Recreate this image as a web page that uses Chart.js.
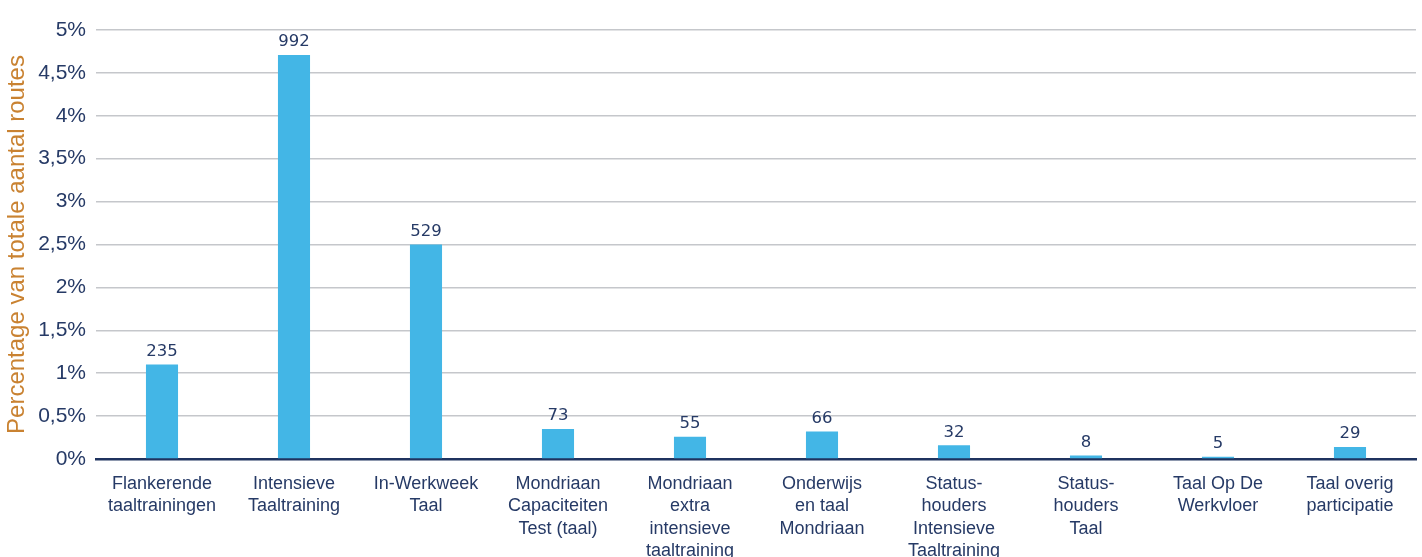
<!DOCTYPE html>
<html>
<head>
<meta charset="utf-8">
<script src="https://cdn.jsdelivr.net/npm/chart.js@4.4.1/dist/chart.umd.min.js"></script>
<style>
  html, body { margin: 0; padding: 0; background: #ffffff; overflow: hidden; }
  #wrap { width: 1422px; height: 557px; overflow: hidden; position: relative; }
  canvas { display: block; }
</style>
</head>
<body>
<div id="wrap"><canvas id="c" width="1422" height="600"></canvas></div>
<script>
const categories = [
  ["Flankerende", "taaltrainingen"],
  ["Intensieve", "Taaltraining"],
  ["In-Werkweek", "Taal"],
  ["Mondriaan", "Capaciteiten", "Test (taal)"],
  ["Mondriaan", "extra", "intensieve", "taaltraining"],
  ["Onderwijs", "en taal", "Mondriaan"],
  ["Status-", "houders", "Intensieve", "Taaltraining"],
  ["Status-", "houders", "Taal"],
  ["Taal Op De", "Werkvloer"],
  ["Taal overig", "participatie"]
];
const percentages = [1.10, 4.71, 2.50, 0.35, 0.26, 0.32, 0.16, 0.04, 0.025, 0.14];
const counts = [235, 992, 529, 73, 55, 66, 32, 8, 5, 29];
const yTickLabels = ["0%", "0,5%", "1%", "1,5%", "2%", "2,5%", "3%", "3,5%", "4%", "4,5%", "5%"];
const yTitle = "Percentage van totale aantal routes";

const NAVY = "#263a66";
const ORANGE = "#c98231";
const BAR = "#43b6e6";
const CANVAS_H = 600;
const AXIS_Y = 459;

const countLabels = {
  id: "countLabels",
  afterDatasetsDraw(chart) {
    const ctx = chart.ctx;
    const meta = chart.getDatasetMeta(0);
    ctx.save();
    ctx.font = "16.5px 'DejaVu Sans'";
    ctx.fillStyle = NAVY;
    ctx.textAlign = "center";
    ctx.textBaseline = "middle";
    meta.data.forEach((bar, i) => {
      ctx.fillText(String(counts[i]), bar.x, bar.y - 13);
    });
    ctx.restore();
  }
};

new Chart(document.getElementById("c"), {
  type: "bar",
  data: {
    labels: categories,
    datasets: [{
      data: percentages,
      backgroundColor: BAR,
      borderWidth: 0,
      categoryPercentage: 1.0,
      barPercentage: 0.243
    }]
  },
  options: {
    responsive: false,
    animation: false,
    devicePixelRatio: 1,
    layout: { padding: { top: 30, right: 6, left: 0, bottom: 0 } },
    plugins: {
      legend: { display: false },
      tooltip: { enabled: false }
    },
    scales: {
      x: {
        grid: { display: false, drawTicks: false },
        border: { display: true, color: "#1f335f", width: 2.5 },
        ticks: {
          color: NAVY,
          font: { family: "'Liberation Sans', Arial, sans-serif", size: 18, lineHeight: "22.3px" },
          padding: 14,
          maxRotation: 0,
          autoSkip: false
        },
        afterFit(scale) { scale.height = CANVAS_H - AXIS_Y; }
      },
      y: {
        min: 0,
        max: 5,
        ticks: {
          stepSize: 0.5,
          color: NAVY,
          padding: 10,
          font: { family: "'Liberation Sans', Arial, sans-serif", size: 21 },
          callback: (v, i) => yTickLabels[i]
        },
        grid: { color: "#c5c7cb", lineWidth: 1.5, drawTicks: false },
        border: { display: false },
        title: {
          display: true,
          text: yTitle,
          color: ORANGE,
          font: { family: "'Liberation Sans', Arial, sans-serif", size: 24 },
          padding: { top: 3, bottom: 0 }
        },
        afterFit(scale) { scale.width = 96; }
      }
    }
  },
  plugins: [countLabels]
});
</script>
</body>
</html>
